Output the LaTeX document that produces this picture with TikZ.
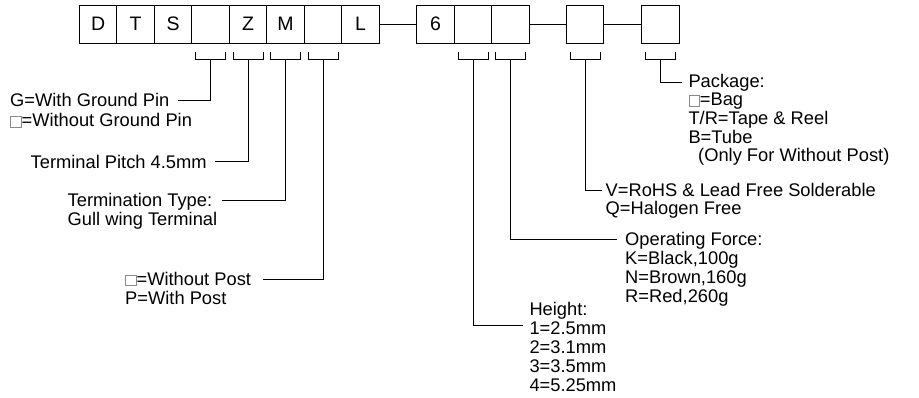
\documentclass[tikz,border=0pt]{standalone}
\usepackage{fontspec}
\setmainfont{Liberation Sans}
\definecolor{sqgray}{HTML}{8A8A8A}
\newcommand{\sqbox}{{\setlength\fboxsep{0pt}\setlength\fboxrule{0.7pt}\fcolorbox{sqgray}{white}{\rule{0pt}{10pt}\rule{10pt}{0pt}}}}
\tikzset{
  box/.style={draw, line width=0.9pt, minimum width=37.5pt, minimum height=38.3pt, inner sep=0pt, font=\fontsize{19.5}{20}\selectfont},
  lbl/.style={anchor=base west, inner sep=0pt, font=\fontsize{18.3}{19}\selectfont},
  wire/.style={line width=0.9pt},
}
\begin{document}
\begin{tikzpicture}[x=1pt,y=-1pt]
\useasboundingbox (0,0) rectangle (919,398);
% code boxes
\foreach \n/\x/\t in {bD/98.05/D, bT/135.55/T, bS/173.05/S, bg/210.55/{}, bZ/248.05/Z, bM/285.55/M, bp/323.05/{}, bL/360.55/L, b6/435.45/6, c2/472.95/{}, c3/510.45/{}, cv/585/{}, cp/660.35/{}}
  \node[box] (\n) at (\x,24.15) {\t};
% links between groups
\draw[wire] (bL.east) -- (b6.west);
\draw[wire] (c3.east) -- (cv.west);
\draw[wire] (cv.east) -- (cp.west);
% brackets
\foreach \b in {bg,bZ,bM,bp,c2,c3,cv,cp} {
  \draw[wire] ([xshift=-15pt,yshift=-8pt]\b.south) -- ++(0,8) -- ++(30,0) -- ++(0,-8);
  \coordinate (k\b) at ([yshift=-16pt]\b.south);
}
% left labels
\node[lbl] (gL) at (10,107) {G=With Ground Pin};
\node[lbl] (gL2) at (10,127) {\sqbox=Without Ground Pin};
\coordinate (gE) at (178,100);
\draw[wire] (kbg) |- (gE);

\node[lbl] (tpL) at (30.5,168.7) {Terminal Pitch 4.5mm};
\coordinate (tpE) at (215,161.7);
\draw[wire] (kbZ) |- (tpE);

\node[lbl] (ttL) at (67.5,206.5) {Termination Type:};
\node[lbl] (ttL2) at (67.5,226) {Gull wing Terminal};
\coordinate (ttE) at (221.7,200);
\draw[wire] (kbM) |- (ttE);

\node[lbl] (poL) at (125,285.5) {\sqbox=Without Post};
\node[lbl] (poL2) at (125,305) {P=With Post};
\coordinate (poE) at (263,279);
\draw[wire] (kbp) |- (poE);

% right labels
\node[lbl] (pkL) at (688.3,87.3) {Package:};
\node[lbl] (pkL2) at (688.3,105.9) {\sqbox=Bag};
\node[lbl] (pkL3) at (688.3,124.5) {T/R=Tape \& Reel};
\node[lbl] (pkL4) at (688.3,143.1) {B=Tube};
\node[lbl] (pkL5) at (698,161.7) {(Only For Without Post)};
\coordinate (pkE) at (682,82.7);
\draw[wire] (kcp) |- (pkE);

\node[lbl] (vL) at (605.5,196.5) {V=RoHS \& Lead Free Solderable};
\node[lbl] (vL2) at (605.5,215) {Q=Halogen Free};
\coordinate (vE) at (602,190);
\draw[wire] (kcv) |- (vE);

\node[lbl] (ofL) at (625,246) {Operating Force:};
\node[lbl] (ofL2) at (625,265) {K=Black,100g};
\node[lbl] (ofL3) at (625,284) {N=Brown,160g};
\node[lbl] (ofL4) at (625,303) {R=Red,260g};
\coordinate (ofE) at (617,239.3);
\draw[wire] (kc3) |- (ofE);

\node[lbl] (hL) at (529.3,315.5) {Height:};
\node[lbl] (hL2) at (529.3,334.5) {1=2.5mm};
\node[lbl] (hL3) at (529.3,353.5) {2=3.1mm};
\node[lbl] (hL4) at (529.3,372.5) {3=3.5mm};
\node[lbl] (hL5) at (529.3,391.5) {4=5.25mm};
\coordinate (hE) at (523.3,325);
\draw[wire] (kc2) |- (hE);
\end{tikzpicture}
\end{document}
